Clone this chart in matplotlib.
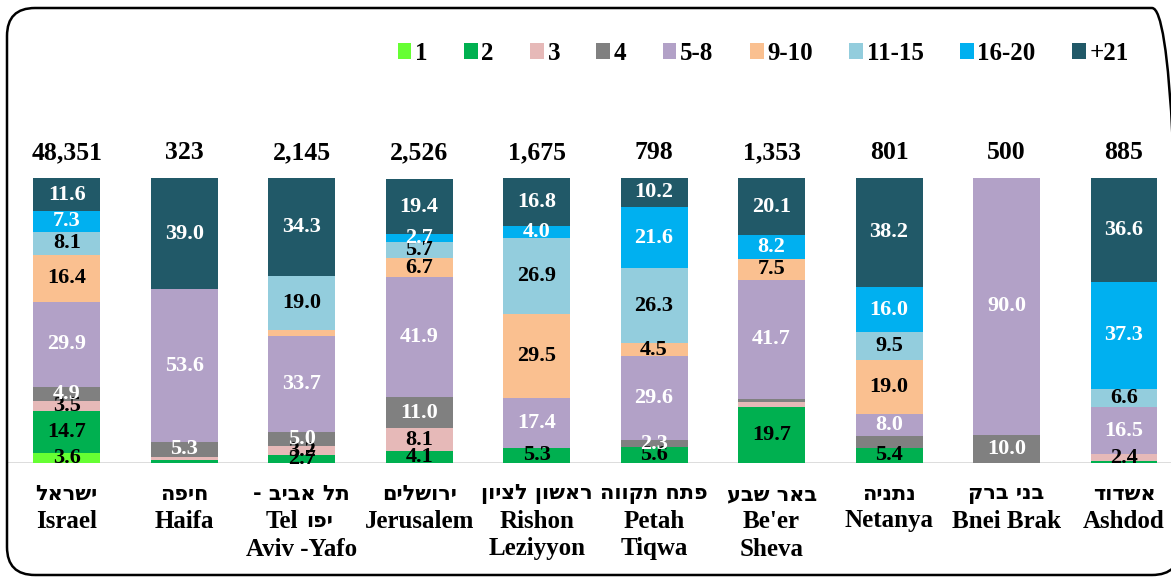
from matplotlib import pyplot as plt
from matplotlib.patches import Patch, FancyBboxPatch
import numpy as np

# cities: hebrew line (logical order) + english lines
heb_names = ["ישראל", "חיפה", "תל אביב -", "ירושלים", "ראשון לציון",
             "פתח תקווה", "באר שבע", "נתניה", "בני ברק", "אשדוד"]
eng_line1 = ["Israel", "Haifa", "Tel", "Jerusalem", "Rishon",
             "Petah", "Be'er", "Netanya", "Bnei Brak", "Ashdod"]
eng_line2 = ["", "", "Aviv -Yafo", "", "Leziyyon", "Tiqwa", "Sheva", "", "", ""]
totals = ["48,351", "323", "2,145", "2,526", "1,675", "798", "1,353", "801", "500", "885"]

groups = ["1", "2", "3", "4", "5-8", "9-10", "11-15", "16-20", "+21"]
v1 = [3.6, 0, 0, 0, 0, 0, 0, 0, 0, 0]
v2 = [14.7, 1.2, 2.7, 4.1, 5.3, 5.6, 19.7, 5.4, 0, 0.6]
v3 = [3.5, 0.9, 3.2, 8.1, 0, 0, 1.8, 0, 0, 2.4]
v4 = [4.9, 5.3, 5.0, 11.0, 0, 2.3, 1.0, 3.9, 10.0, 0]
v5_8 = [29.9, 53.6, 33.7, 41.9, 17.4, 29.6, 41.7, 8.0, 90.0, 16.5]
v9_10 = [16.4, 0, 2.1, 6.7, 29.5, 4.5, 7.5, 19.0, 0, 0]
v11_15 = [8.1, 0, 19.0, 5.7, 26.9, 26.3, 0, 9.5, 0, 6.6]
v16_20 = [7.3, 0, 0, 2.7, 4.0, 21.6, 8.2, 16.0, 0, 37.3]
v21 = [11.6, 39.0, 34.3, 19.4, 16.8, 10.2, 20.1, 38.2, 0, 36.6]
series = [v1, v2, v3, v4, v5_8, v9_10, v11_15, v16_20, v21]

colors = ["#66FF33", "#00B050", "#E6B9B8", "#808080", "#B2A1C7",
          "#FAC090", "#93CDDD", "#00B0F0", "#215968"]
txt_colors = ["black", "black", "black", "white", "white",
              "black", "black", "white", "white"]
hidden = [(7, 3)]  # netanya, group 4 has no label

FONT = ["Liberation Serif", "DejaVu Sans"]
HEB_FONT = ["DejaVu Sans"]
plt.rcParams['font.family'] = FONT
plt.rcParams['font.weight'] = 'bold'


def heb(s):
    # matplotlib has no bidi, so flip hebrew to visual order
    return s[::-1]


fig = plt.figure(figsize=(11.71, 5.79), dpi=100)
ax = fig.add_axes([8 / 1171, 116 / 579, 1163 / 1171, 285 / 579])

x = np.arange(len(heb_names))
bottom = np.zeros(len(x))
for g in range(len(groups)):
    vals = np.array(series[g], dtype=float)
    ax.bar(x, vals, 0.57, bottom=bottom, color=colors[g], linewidth=0, zorder=3)
    for i in range(len(x)):
        if vals[i] >= 2.2 and (i, g) not in hidden:
            ax.text(x[i], bottom[i] + vals[i] / 2, "%.1f" % vals[i],
                    ha='center', va='center', fontsize=16, fontweight='bold',
                    color=txt_colors[g], zorder=4)
    bottom = bottom + vals

for i in range(len(x)):
    ax.text(x[i], 108.8, totals[i], ha='center', va='center', fontsize=18.5,
            fontweight='bold', clip_on=False)

# category labels: hebrew line, then english line(s)
for i in range(len(x)):
    ax.annotate(heb(heb_names[i]), xy=(x[i], 0), xytext=(0, -31), textcoords='offset pixels',
                ha='center', va='center', fontsize=15, fontweight='bold', family=HEB_FONT,
                annotation_clip=False)
    dx = 0
    if i == 2:
        # tel aviv wraps inside an rtl paragraph: "Tel" left, "יפו" right
        dx = -20
        ax.annotate(heb("יפו"), xy=(x[i], 0), xytext=(18, -58), textcoords='offset pixels',
                    ha='center', va='center', fontsize=15, fontweight='bold', family=HEB_FONT,
                    annotation_clip=False)
    ax.annotate(eng_line1[i], xy=(x[i], 0), xytext=(dx, -58), textcoords='offset pixels',
                ha='center', va='center', fontsize=18, fontweight='bold', annotation_clip=False)
    if eng_line2[i]:
        ax.annotate(eng_line2[i], xy=(x[i], 0), xytext=(0, -86), textcoords='offset pixels',
                    ha='center', va='center', fontsize=18, fontweight='bold',
                    annotation_clip=False)

ax.axhline(0, color='#d9d9d9', lw=2, zorder=2)
ax.set_xlim(-0.5, 9.4)
ax.set_ylim(0, 100)
ax.set_xticks([])
ax.set_yticks([])
for s in ax.spines.values():
    s.set_visible(False)

handles = [Patch(facecolor=colors[g], label=groups[g]) for g in range(len(groups))]
fig.legend(handles=handles, loc='center', bbox_to_anchor=(0.6516, 0.908), ncol=9,
           frameon=False, handlelength=0.55, handleheight=0.6,
           handletextpad=0.15, columnspacing=1.45,
           prop={'family': FONT, 'weight': 'bold', 'size': 18})

frame = FancyBboxPatch((0.07, 0.04), 11.73, 5.67, boxstyle="round,pad=0,rounding_size=0.28",
                       transform=fig.dpi_scale_trans, fill=False, edgecolor='black', lw=1.8)
fig.add_artist(frame)

plt.savefig('out.png', dpi=100)
